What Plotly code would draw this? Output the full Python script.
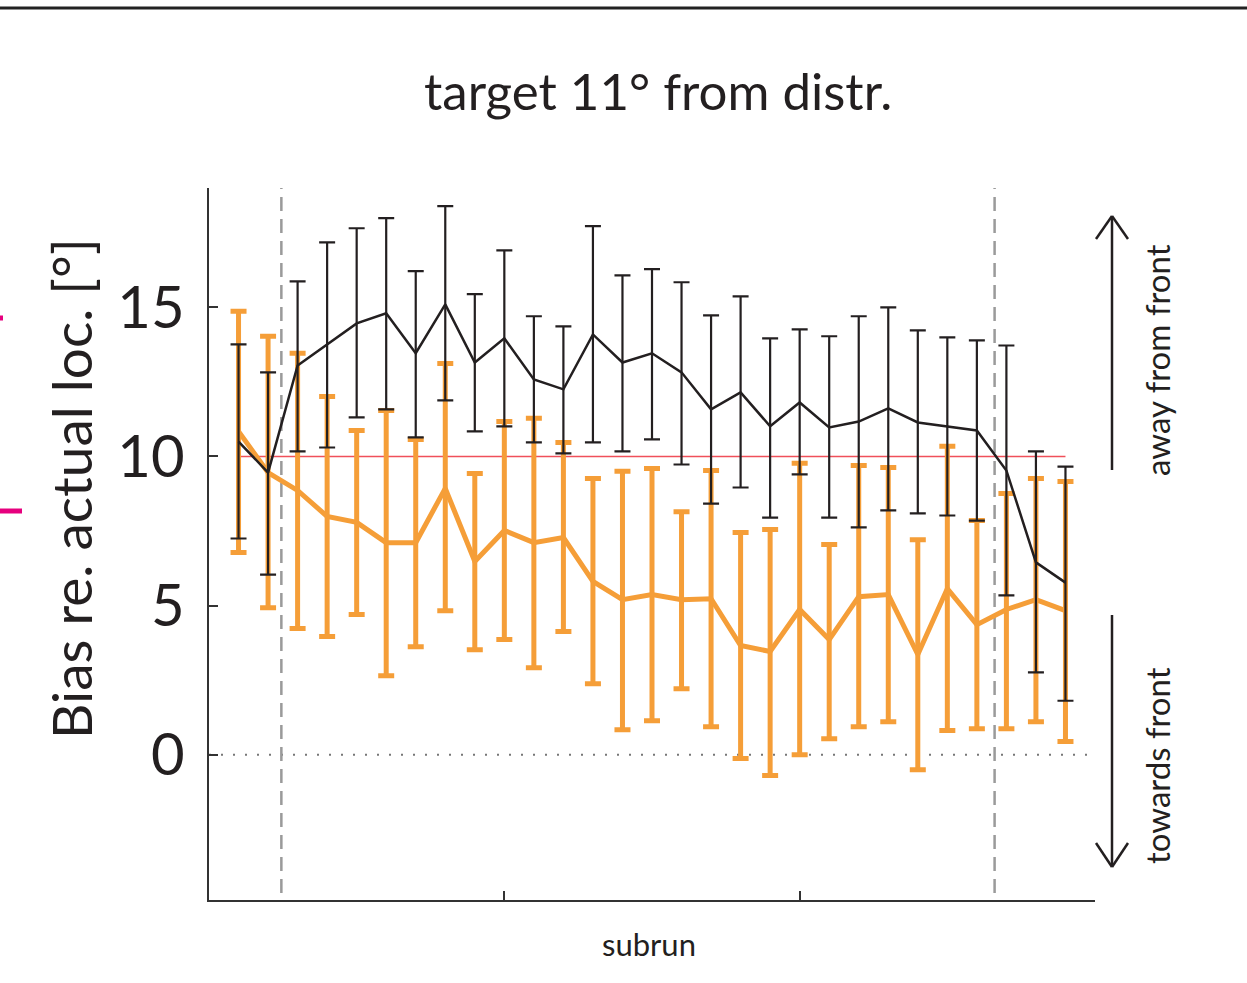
import plotly.graph_objects as go

# ---------------- data ----------------
subrun = list(range(1, 30))

black_mean = [10.50, 9.46, 13.05, 13.76, 14.46, 14.80, 13.46, 15.10, 13.15, 13.96,
              12.58, 12.25, 14.09, 13.15, 13.46, 12.82, 11.58, 12.15, 11.01, 11.81,
              10.97, 11.17, 11.61, 11.14, 11.01, 10.87, 9.53, 6.45, 5.77]
black_upper = [13.76, 12.82, 15.87, 17.18, 17.65, 17.99, 16.21, 18.39, 15.44, 16.91,
               14.70, 14.36, 17.72, 16.07, 16.28, 15.84, 14.73, 15.37, 13.96, 14.26,
               14.03, 14.70, 15.00, 14.23, 13.99, 13.89, 13.72, 10.17, 9.66]
black_lower = [7.25, 6.04, 10.17, 10.30, 11.31, 11.58, 10.64, 11.88, 10.84, 11.01,
               10.47, 10.10, 10.47, 10.17, 10.57, 9.73, 8.42, 8.96, 7.95, 9.40,
               7.95, 7.62, 8.19, 8.09, 8.02, 7.85, 5.34, 2.76, 1.81]

orange_mean = [10.84, 9.46, 8.86, 7.99, 7.79, 7.11, 7.11, 8.93, 6.48, 7.52,
               7.11, 7.28, 5.81, 5.20, 5.37, 5.20, 5.23, 3.66, 3.46, 4.87,
               3.86, 5.30, 5.37, 3.36, 5.57, 4.36, 4.87, 5.20, 4.83]
orange_upper = [14.87, 14.03, 13.46, 12.01, 10.87, 11.54, 10.57, 13.12, 9.43, 11.17,
                11.28, 10.47, 9.26, 9.50, 9.60, 8.15, 9.53, 7.45, 7.55, 9.77,
                7.05, 9.70, 9.63, 7.21, 10.34, 7.85, 8.76, 9.26, 9.16]
orange_lower = [6.78, 4.93, 4.23, 3.96, 4.70, 2.65, 3.62, 4.83, 3.52, 3.86,
                2.92, 4.13, 2.38, 0.84, 1.14, 2.21, 0.94, -0.13, -0.70, 0.00,
                0.54, 0.94, 1.11, -0.50, 0.81, 0.87, 0.87, 1.11, 0.44]

reference_level = 10
phase_bounds = [2.45, 26.6]
x_ticks = [10, 20]
y_ticks = [0, 5, 10, 15]

# ---------------- styling ----------------
FONT = "Lato"
BLACK = "#231F20"
ORANGE = "#F59E38"
W, H = 1247, 983
L, R, T, B = 209, 152, 188, 83


def px(x):
    return (x - L) / (W - L - R)


def py(y):
    return (H - B - y) / (H - T - B)


fig = go.Figure()

fig.add_trace(go.Scatter(
    x=subrun, y=orange_mean, mode="lines",
    line=dict(color=ORANGE, width=5),
    error_y=dict(type="data", symmetric=False,
                 array=[u - m for u, m in zip(orange_upper, orange_mean)],
                 arrayminus=[m - l for m, l in zip(orange_mean, orange_lower)],
                 color=ORANGE, thickness=5, width=8),
    showlegend=False, hoverinfo="skip"))

fig.add_trace(go.Scatter(
    x=subrun, y=black_mean, mode="lines",
    line=dict(color=BLACK, width=2.5),
    error_y=dict(type="data", symmetric=False,
                 array=[u - m for u, m in zip(black_upper, black_mean)],
                 arrayminus=[m - l for m, l in zip(black_mean, black_lower)],
                 color=BLACK, thickness=2.2, width=8),
    showlegend=False, hoverinfo="skip"))

shapes = []
# reference line
shapes.append(dict(type="line", xref="x", yref="y", x0=subrun[0], x1=subrun[-1],
                   y0=reference_level, y1=reference_level,
                   line=dict(color="#F0505A", width=1.5), layer="below"))
# zero dotted line
shapes.append(dict(type="line", xref="paper", yref="y", x0=0, x1=px(1090),
                   y0=0, y1=0, line=dict(color="#777777", width=2, dash="2px,10px"),
                   layer="below"))
# phase boundaries
for xb in phase_bounds:
    shapes.append(dict(type="line", xref="x", yref="paper", x0=xb, x1=xb,
                       y0=py(893), y1=1, line=dict(color="#9A9A9A", width=2.5, dash="14px,8px"),
                       layer="below"))
# top border line
shapes.append(dict(type="line", xref="paper", yref="paper", x0=px(0), x1=px(W),
                   y0=py(8), y1=py(8), line=dict(color="#222222", width=3)))
# magenta marks on left edge
shapes.append(dict(type="line", xref="paper", yref="paper", x0=px(0), x1=px(3),
                   y0=py(318), y1=py(318), line=dict(color="#E6007E", width=5)))
shapes.append(dict(type="line", xref="paper", yref="paper", x0=px(0), x1=px(22),
                   y0=py(511), y1=py(511), line=dict(color="#E6007E", width=5)))
# arrows on the right
ax = 1112
arrow_line = dict(color=BLACK, width=2.5)
shapes.append(dict(type="line", xref="paper", yref="paper", x0=px(ax), x1=px(ax),
                   y0=py(470), y1=py(217), line=arrow_line))
shapes.append(dict(type="line", xref="paper", yref="paper", x0=px(ax - 16), x1=px(ax),
                   y0=py(239), y1=py(216), line=arrow_line))
shapes.append(dict(type="line", xref="paper", yref="paper", x0=px(ax + 16), x1=px(ax),
                   y0=py(239), y1=py(216), line=arrow_line))
shapes.append(dict(type="line", xref="paper", yref="paper", x0=px(ax), x1=px(ax),
                   y0=py(615), y1=py(866), line=arrow_line))
shapes.append(dict(type="line", xref="paper", yref="paper", x0=px(ax - 16), x1=px(ax),
                   y0=py(843), y1=py(867), line=arrow_line))
shapes.append(dict(type="line", xref="paper", yref="paper", x0=px(ax + 16), x1=px(ax),
                   y0=py(843), y1=py(867), line=arrow_line))

annotations = [
    dict(text="target 11° from distr.", xref="paper", yref="paper",
         x=px(658), y=py(90), xanchor="center", yanchor="middle", showarrow=False,
         font=dict(family=FONT, size=51, color=BLACK)),
    dict(text="Bias re. actual loc. [°]", xref="paper", yref="paper",
         x=px(71), y=py(489), xanchor="center", yanchor="middle", showarrow=False,
         textangle=-90, font=dict(family=FONT, size=55, color=BLACK)),
    dict(text="subrun", xref="paper", yref="paper",
         x=px(649), y=py(944), xanchor="center", yanchor="middle", showarrow=False,
         font=dict(family=FONT, size=31, color=BLACK)),
    dict(text="away from front", xref="paper", yref="paper",
         x=px(1157), y=py(360), xanchor="center", yanchor="middle", showarrow=False,
         textangle=-90, font=dict(family=FONT, size=33, color=BLACK)),
    dict(text="towards front", xref="paper", yref="paper",
         x=px(1157), y=py(766), xanchor="center", yanchor="middle", showarrow=False,
         textangle=-90, font=dict(family=FONT, size=33, color=BLACK)),
]

fig.update_layout(
    width=W, height=H,
    margin=dict(l=L, r=R, t=T, b=B, autoexpand=False),
    paper_bgcolor="white", plot_bgcolor="white",
    shapes=shapes, annotations=annotations,
    xaxis=dict(range=[0, 30], tickvals=x_ticks, showticklabels=False,
               ticks="inside", ticklen=9, tickwidth=1.5, tickcolor="#333333",
               showline=True, linecolor="#333333", linewidth=1.5,
               showgrid=False, zeroline=False),
    yaxis=dict(range=[-4.87, 19.0], tickvals=y_ticks,
               ticks="inside", ticklen=9, tickwidth=1.5, tickcolor="#333333",
               ticklabelstandoff=11,
               tickfont=dict(family=FONT, size=58, color=BLACK),
               showline=True, linecolor="#333333", linewidth=1.5,
               showgrid=False, zeroline=False),
)

fig.write_html("out.html",
               config={"displayModeBar": False},
               post_script="document.body.style.margin='0';document.body.style.overflow='hidden';")
